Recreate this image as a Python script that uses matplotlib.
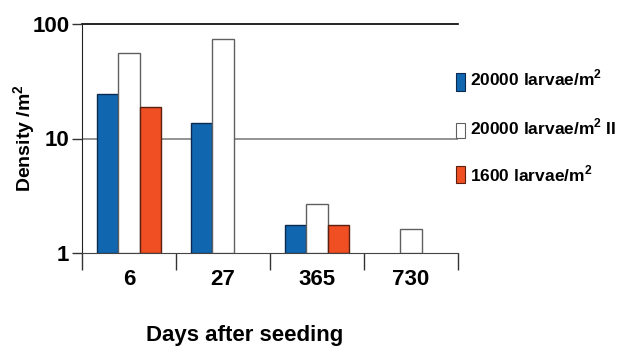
import matplotlib
matplotlib.use("Agg")
import matplotlib.pyplot as plt
import numpy as np

plt.rcParams['font.family'] = ['Liberation Sans', 'DejaVu Sans']
plt.rcParams['font.weight'] = 'bold'
plt.rcParams['mathtext.fontset'] = 'custom'
plt.rcParams['mathtext.rm'] = 'Liberation Sans:bold'
plt.rcParams['mathtext.bf'] = 'Liberation Sans:bold'

days = ["6", "27", "365", "730"]
series_names = ["20000 larvae/m$^{2}$", "20000 larvae/m$^{2}$ II", "1600 larvae/m$^{2}$"]
blue_vals = [24.3, 13.7, 1.75, np.nan]
white_vals = [55.5, 74.0, 2.7, 1.62]
red_vals = [19.0, np.nan, 1.75, np.nan]
colors = ["#1166B0", "#FFFFFF", "#F04E23"]
edges = ["#0A2A50", "#606060", "#5A2010"]

fig = plt.figure(figsize=(6.2, 3.49), dpi=100)
ax = fig.add_axes([82/620, 1-253/349, (458-82)/620, (253-24)/349])

x = np.arange(len(days))
w = 0.225
for i, (vals, c, e) in enumerate(zip([blue_vals, white_vals, red_vals], colors, edges)):
    v = np.array(vals, dtype=float)
    mask = ~np.isnan(v)
    ax.bar(x[mask] + (i - 1) * w, v[mask] - 1, bottom=1, width=w, color=c,
           edgecolor=e, linewidth=1.0, zorder=3)

ax.set_yscale('log')
ax.set_ylim(1, 100)
ax.set_xlim(-0.5, len(days) - 0.5)
ax.set_yticks([1, 10, 100])
ax.set_yticklabels(["1", "10", "100"], fontsize=16, fontweight='bold')
ax.yaxis.set_minor_locator(matplotlib.ticker.NullLocator())
ax.axhline(10, color="#808080", linewidth=1.2, zorder=1)
ax.axhline(100, color="#000000", linewidth=1.2, zorder=1, clip_on=False)

ax.set_xticks(np.arange(len(days) + 1) - 0.5)
ax.set_xticklabels([])
ax.tick_params(axis='x', direction='out', length=12, width=1, color="#333333")
ax.tick_params(axis='y', direction='out', length=7, width=1, color="#333333", pad=2)
for i, d in enumerate(days):
    ax.text(i, -0.115, d, transform=ax.get_xaxis_transform(), ha='center', va='center',
            fontsize=16, fontweight='bold')

for s in ['top', 'right']:
    ax.spines[s].set_visible(False)
ax.spines['left'].set_color("#222222")
ax.spines['bottom'].set_color("#444444")

fig.text(25/620, 1-138/349, "Density /m$^{2}$", rotation=90, ha='center', va='center',
         fontsize=14, fontweight='bold')
fig.text(245/620, 1-336/349, "Days after seeding", ha='center', va='center',
         fontsize=16, fontweight='bold')

# legend entries
patch_boxes = [(73, 91), (123, 138), (166, 183)]
text_y = [78, 127, 174]
for name, c, e, (y0, y1), ty in zip(series_names, colors, edges, patch_boxes, text_y):
    fig.patches.append(matplotlib.patches.Rectangle((456/620, 1-y1/349), 9/620, (y1-y0)/349,
                       transform=fig.transFigure, facecolor=c, edgecolor=e, linewidth=0.8))
    fig.text(470/620, 1-ty/349, name, ha='left', va='center', fontsize=12.5, fontweight='bold')

fig.savefig("out.png", dpi=100)
